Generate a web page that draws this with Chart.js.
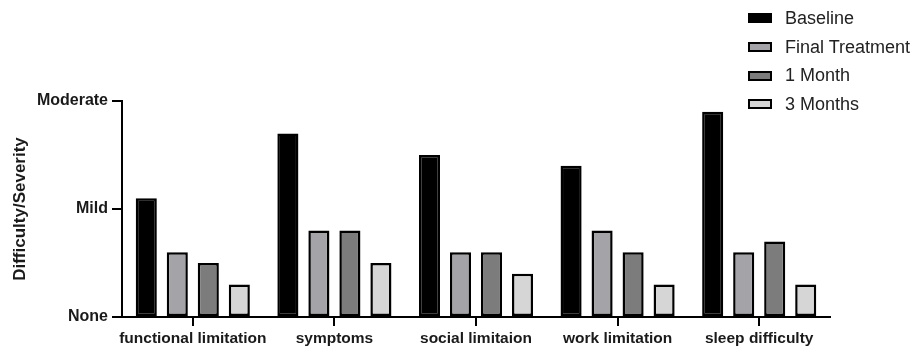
<!DOCTYPE html>
<html>
<head>
<meta charset="utf-8">
<script src="https://cdn.jsdelivr.net/npm/chart.js@4.4.0/dist/chart.umd.min.js"></script>
<style>
  body{margin:0;background:#fff;}
  #wrap{position:relative;width:911px;height:350px;}
  #legend{position:absolute;left:748px;top:4px;font-family:"Liberation Sans",Arial,sans-serif;font-size:18px;color:#222;}
  #legend .row{display:flex;align-items:center;height:28.7px;}
  #legend .sw{width:20px;height:6px;border:2px solid #000;margin-right:13px;}
</style>
</head>
<body>
<div id="wrap">
  <canvas id="chart" width="911" height="350"></canvas>
  <div id="legend"></div>
</div>
<script>
/* ===============================
   DATA
================================= */
const categories=['functional limitation','symptoms','social limitaion','work limitation','sleep difficulty'];
const baseline=[1.1,1.7,1.5,1.4,1.9];
const finalTreatment=[0.6,0.8,0.6,0.8,0.6];
const oneMonth=[0.5,0.8,0.6,0.6,0.7];
const threeMonths=[0.3,0.5,0.4,0.3,0.3];
const yTickLabels=['None','Mild','Moderate'];

const seriesNames=['Baseline','Final Treatment','1 Month','3 Months'];
const seriesColors=['#000000','#a4a4a8','#7c7c7c','#d6d6d6'];
const seriesData=[baseline,finalTreatment,oneMonth,threeMonths];

const boldFont={family:'"Liberation Sans", Arial, sans-serif',size:15.5,weight:'bold'};

/* ===============================
   CHART
================================= */
const ctx=document.getElementById('chart').getContext('2d');
const chart=new Chart(ctx,{
    type:'bar',
    data:{
        labels:categories,
        datasets:seriesNames.map((name,i)=>({
            label:name,
            data:seriesData[i],
            backgroundColor:seriesColors[i],
            borderColor:'#000',
            borderWidth:2.5,
            borderSkipped:false,
            categoryPercentage:0.876,
            barPercentage:0.68
        }))
    },
    options:{
        responsive:false,
        animation:false,
        layout:{padding:{left:4,top:101,right:81,bottom:0}},
        plugins:{legend:{display:false},tooltip:{enabled:false}},
        scales:{
            x:{
                offset:true,
                grid:{drawOnChartArea:false,offset:false,color:'#000',lineWidth:2,tickLength:9},
                border:{color:'#000',width:2},
                ticks:{color:'#1a1a1a',font:boldFont,padding:3,maxRotation:0,autoSkip:false},
                afterFit:s=>{s.height=33;}
            },
            y:{
                min:0,max:2,
                grid:{drawOnChartArea:false,color:'#000',lineWidth:2,tickLength:10},
                border:{color:'#000',width:2},
                ticks:{stepSize:1,color:'#1a1a1a',font:{...boldFont,size:16},padding:4,
                    callback:v=>yTickLabels[v]},
                title:{display:true,text:'Difficulty/Severity',color:'#1a1a1a',
                    font:{...boldFont,size:17},padding:{top:6,bottom:0}},
                afterFit:s=>{s.width=118;}
            }
        }
    }
});

// Legend (vertical, top right)
const legend=document.getElementById('legend');
chart.data.datasets.forEach(ds=>{
    const row=document.createElement('div');
    row.className='row';
    row.innerHTML='<span class="sw" style="background:'+ds.backgroundColor+'"></span><span>'+ds.label+'</span>';
    legend.appendChild(row);
});
</script>
</body>
</html>
